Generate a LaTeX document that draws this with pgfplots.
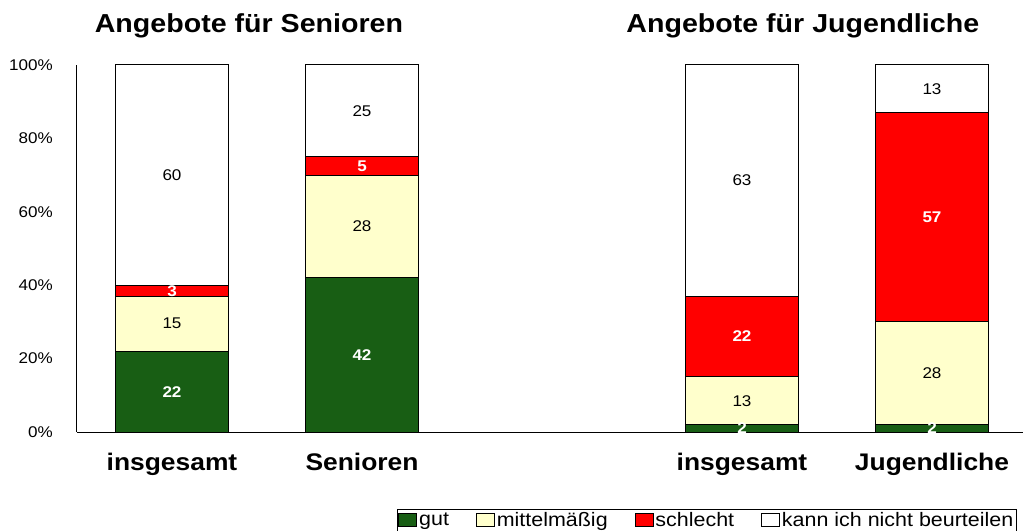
\documentclass[border=0pt]{standalone}
\usepackage{pgfplots}
\pgfplotsset{compat=1.18}
\usepackage{pgfplotstable}
\usepackage{fontspec}
\setmainfont[FakeStretch=1.1]{Liberation Sans}
\definecolor{cgreen}{RGB}{24,94,20}
\definecolor{cyellow}{RGB}{255,255,204}
\definecolor{cred}{RGB}{255,0,0}
\pgfplotsset{mylegend/.style={legend image code/.code={\draw[##1, line width=0.8pt] (0pt,-6pt) rectangle (18pt,7pt);}}}
\pgfplotstableread{
x gut mittel schlecht kann
0 22 15 3 60
1 42 28 5 25
3 2 13 22 63
4 2 28 57 13
}\data
\begin{document}
\begin{tikzpicture}
\useasboundingbox (-77pt,-98pt) rectangle (948pt,432pt);
\begin{axis}[
  scale only axis, width=946pt, height=367pt,
  xmin=-0.5, xmax=4.479, ymin=0, ymax=100,
  ybar stacked, bar width=113pt,
  axis x line=bottom, axis y line=left,
  axis line style={-, line width=1pt, black},
  xtick={0,1,3,4}, xticklabels={insgesamt,Senioren,insgesamt,Jugendliche},
  xticklabel style={font=\fontsize{24}{27}\selectfont\bfseries, anchor=base, yshift=-38pt},
  ytick={0,20,...,100}, yticklabel={\pgfmathprintnumber{\tick}\%},
  yticklabel style={font=\fontsize{15.5}{18}\selectfont, anchor=east, inner sep=0pt, xshift=-24pt},
  major tick length=0pt,
  /pgf/number format/assume math mode=true,
  clip=false,
  legend columns=4,
  legend style={at={(0.3383,-0.2098)}, anchor=north west, draw=black, line width=0.8pt,
    font=\fontsize{19.5}{21}\selectfont, inner sep=1pt,
    /tikz/every even column/.append style={column sep=25pt}},
  nodes near coords={\pgfmathprintnumber{\rawy}},
  every node near coord/.append style={anchor=center, font=\fontsize{15.5}{18}\selectfont},
]
\addplot[fill=cgreen, draw=black, line width=1pt,
  visualization depends on={\thisrow{gut} \as \rawy},
  every node near coord/.append style={white, font=\fontsize{15.5}{18}\selectfont\bfseries},
  mylegend]
  table[x=x, y=gut] {\data};
\addplot[fill=cyellow, draw=black, line width=1pt,
  visualization depends on={\thisrow{mittel} \as \rawy},
  every node near coord/.append style={black},
  mylegend]
  table[x=x, y=mittel] {\data};
\addplot[fill=cred, draw=black, line width=1pt,
  visualization depends on={\thisrow{schlecht} \as \rawy},
  every node near coord/.append style={white, font=\fontsize{15.5}{18}\selectfont\bfseries},
  mylegend]
  table[x=x, y=schlecht] {\data};
\addplot[fill=white, draw=black, line width=1pt,
  visualization depends on={\thisrow{kann} \as \rawy},
  every node near coord/.append style={black},
  mylegend]
  table[x=x, y=kann] {\data};
\legend{gut, mittelmäßig, schlecht, kann ich nicht beurteilen}
\node[font=\fontsize{26}{30}\selectfont\bfseries, anchor=base, yshift=32pt] at (axis cs:0.405,100) {Angebote für Senioren};
\node[font=\fontsize{26}{30}\selectfont\bfseries, anchor=base, yshift=32pt] at (axis cs:3.32,100) {Angebote für Jugendliche};
\end{axis}
\end{tikzpicture}
\end{document}
